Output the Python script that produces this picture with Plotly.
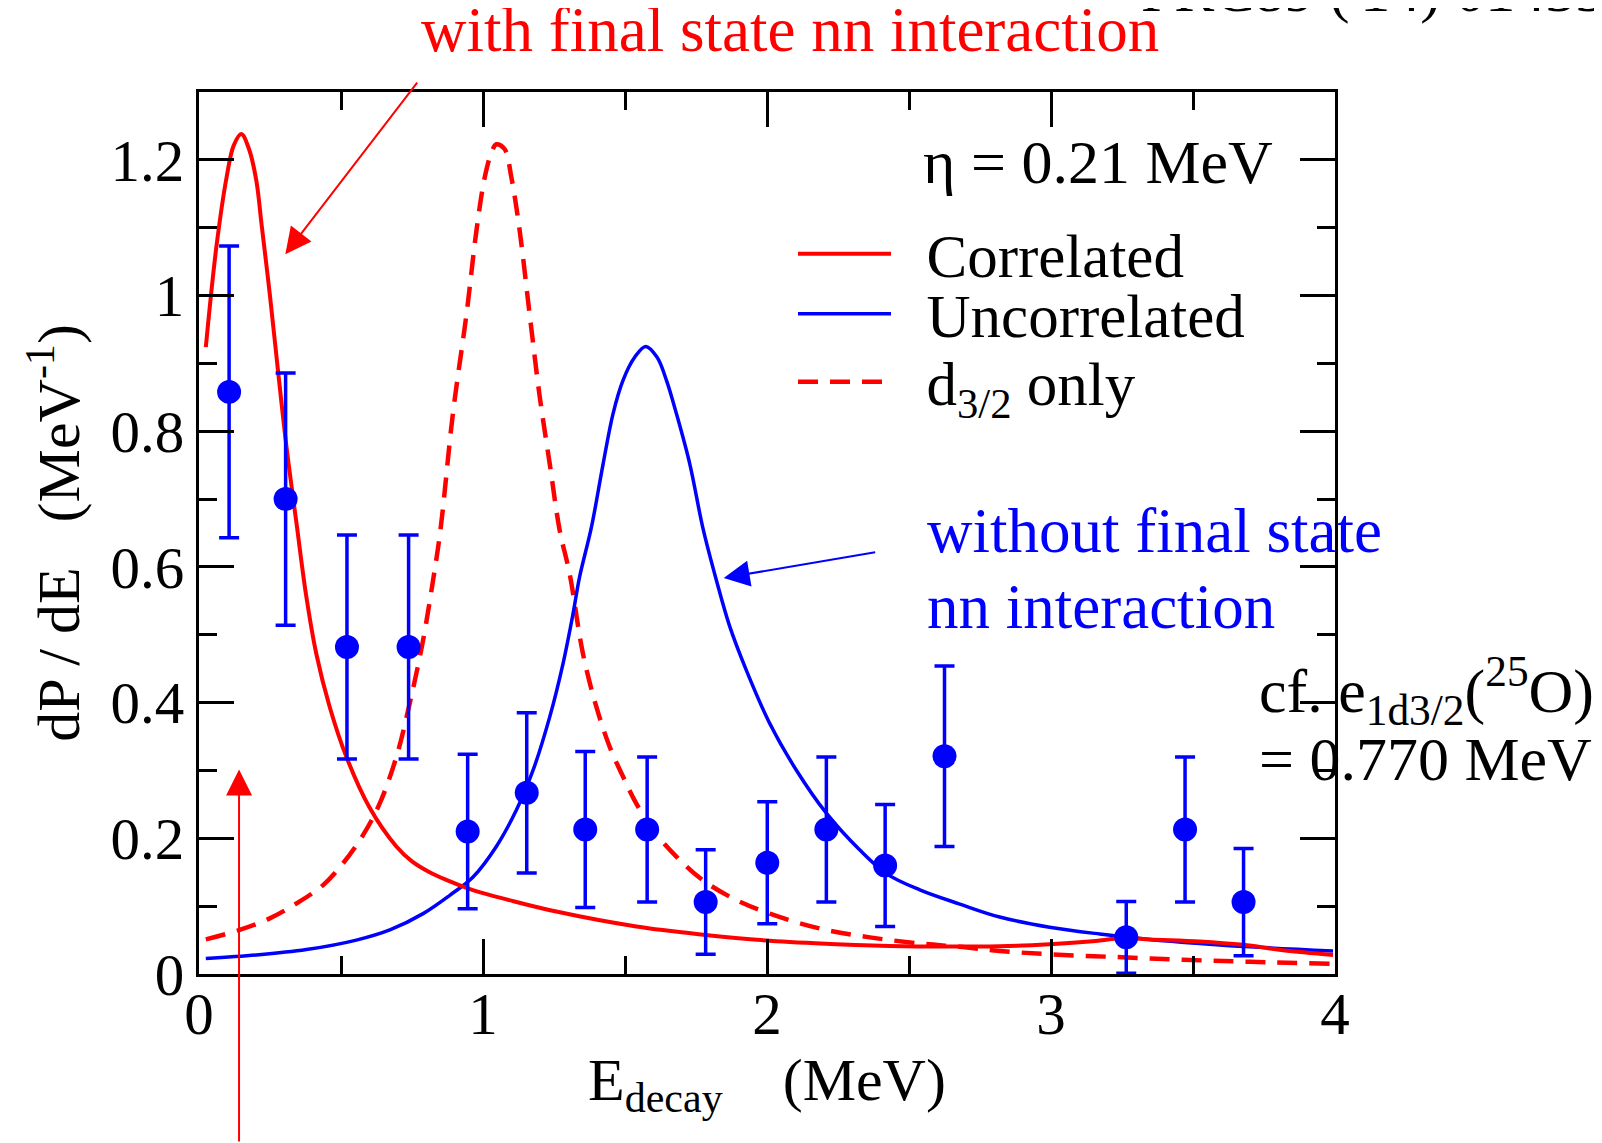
import plotly.graph_objects as go

# ---------------- data ----------------
corr_x = [0.024, 0.061, 0.097, 0.122, 0.149, 0.176, 0.202, 0.220, 0.249, 0.278, 0.308, 0.344,
          0.378, 0.413, 0.460, 0.519, 0.601, 0.695, 0.750, 0.812, 0.875, 0.942, 1.010, 1.082,
          1.258, 1.540, 1.775, 2.010, 2.244, 2.479, 2.819, 2.995, 3.136, 3.265, 3.348, 3.523,
          3.676, 3.817, 3.993]
corr_y = [0.924, 1.071, 1.174, 1.221, 1.238, 1.216, 1.169, 1.106, 1.003, 0.890, 0.777, 0.662,
          0.556, 0.472, 0.394, 0.320, 0.245, 0.188, 0.166, 0.150, 0.138, 0.127, 0.118, 0.110,
          0.092, 0.070, 0.058, 0.049, 0.044, 0.041, 0.041, 0.044, 0.048, 0.053, 0.051, 0.048,
          0.043, 0.035, 0.028]

unc_x = [0.024, 0.202, 0.378, 0.554, 0.672, 0.789, 0.883, 0.965, 1.047, 1.118, 1.176, 1.235,
         1.282, 1.317, 1.340, 1.382, 1.423, 1.458, 1.493, 1.534, 1.573, 1.613, 1.646, 1.681,
         1.728, 1.775, 1.822, 1.869, 1.927, 2.010, 2.104, 2.209, 2.326, 2.420, 2.538, 2.679,
         2.819, 2.995, 3.171, 3.348, 3.523, 3.700, 3.993]
unc_y = [0.023, 0.028, 0.036, 0.050, 0.065, 0.089, 0.116, 0.143, 0.188, 0.242, 0.300, 0.379,
         0.458, 0.531, 0.585, 0.659, 0.752, 0.826, 0.875, 0.909, 0.925, 0.909, 0.875, 0.826,
         0.752, 0.656, 0.580, 0.512, 0.448, 0.369, 0.300, 0.237, 0.183, 0.148, 0.124, 0.103,
         0.084, 0.069, 0.059, 0.051, 0.045, 0.040, 0.034]

d32_x = [0.024, 0.143, 0.249, 0.343, 0.437, 0.507, 0.578, 0.636, 0.695, 0.742, 0.789, 0.824,
         0.850, 0.894, 0.942, 0.977, 1.006, 1.030, 1.047, 1.076, 1.100, 1.129, 1.164, 1.200,
         1.235, 1.270, 1.305, 1.352, 1.399, 1.446, 1.493, 1.540, 1.599, 1.681, 1.775, 1.892,
         2.010, 2.186, 2.362, 2.538, 2.679, 2.819, 2.995, 3.230, 3.465, 3.700, 3.981]
d32_y = [0.051, 0.065, 0.082, 0.104, 0.131, 0.163, 0.205, 0.251, 0.320, 0.399, 0.492, 0.580,
         0.654, 0.826, 0.973, 1.096, 1.174, 1.211, 1.223, 1.216, 1.174, 1.096, 0.973, 0.850,
         0.752, 0.654, 0.590, 0.472, 0.394, 0.335, 0.291, 0.251, 0.212, 0.173, 0.138, 0.109,
         0.089, 0.067, 0.054, 0.045, 0.040, 0.034, 0.029, 0.025, 0.021, 0.018, 0.015]

exp_x = [0.106, 0.305, 0.521, 0.738, 0.946, 1.154, 1.360, 1.578, 1.784, 2.001, 2.209, 2.416,
         2.625, 3.265, 3.472, 3.678]
exp_y = [0.858, 0.700, 0.482, 0.482, 0.210, 0.267, 0.213, 0.213, 0.106, 0.164, 0.213, 0.160,
         0.321, 0.054, 0.213, 0.106]
exp_err = [0.215, 0.186, 0.165, 0.165, 0.114, 0.118, 0.115, 0.107, 0.077, 0.090, 0.107, 0.090,
           0.133, 0.053, 0.107, 0.079]

legend_names = ["Correlated", "Uncorrelated", "d<sub>3/2</sub> only"]
x_ticks = [0, 1, 2, 3, 4]
x_ticktext = ["0", "1", "2", "3", "4"]
y_ticks = [0, 0.2, 0.4, 0.6, 0.8, 1.0, 1.2]
y_ticktext = ["0", "0.2", "0.4", "0.6", "0.8", "1", "1.2"]

RED = "#FF0000"
BLUE = "#0000FF"
FONT = "Liberation Serif, Times New Roman, serif"
NB = "\u00a0"

# page body margin compensation
OFF = 8
W, H = 1602 - OFF, 1143 - OFF
ML_REF, MT_REF, PW, PH = 199, 92, 1136, 882
ML, MT = ML_REF - OFF, MT_REF - OFF
MR = W - ML - PW
MB = H - MT - PH


def px(xp):  # reference pixel x -> paper
    return (xp - ML_REF) / PW


def py(yp):  # reference pixel y -> paper
    return (MT_REF + PH - yp) / PH


fig = go.Figure()

fig.add_trace(go.Scatter(x=d32_x, y=d32_y, mode="lines", name=NB + NB + legend_names[2],
                         line=dict(color=RED, width=4.5, dash="20px,12px", shape="spline", smoothing=1.0),
                         legend="legend3"))
fig.add_trace(go.Scatter(x=unc_x, y=unc_y, mode="lines", name=NB + NB + legend_names[1],
                         line=dict(color=BLUE, width=3.5, shape="spline", smoothing=1.0),
                         legend="legend2"))
fig.add_trace(go.Scatter(x=corr_x, y=corr_y, mode="lines", name=NB + NB + legend_names[0],
                         line=dict(color=RED, width=4, shape="spline", smoothing=1.0),
                         legend="legend"))
fig.add_trace(go.Scatter(x=exp_x, y=exp_y, mode="markers", showlegend=False,
                         marker=dict(color=BLUE, size=24),
                         error_y=dict(type="data", array=exp_err, color=BLUE, thickness=3.5, width=10)))

leg_common = dict(font=dict(family=FONT, size=61, color="black"), bgcolor="rgba(0,0,0,0)",
                  borderwidth=0, itemwidth=93, xanchor="left", yanchor="middle")
fig.update_layout(
    legend=dict(x=px(793), y=py(254), **leg_common),
    legend2=dict(x=px(793), y=py(314), **leg_common),
    legend3=dict(x=px(793), y=py(382), **leg_common),
)

axis_common = dict(showline=True, linewidth=3, linecolor="black", mirror="ticks",
                   ticks="inside", ticklen=35, tickwidth=3, tickcolor="black",
                   showgrid=False, zeroline=False,
                   tickfont=dict(family=FONT, size=59, color="black"))
fig.update_xaxes(range=[0, 4], tickvals=x_ticks, ticktext=x_ticktext, ticklabelstandoff=-14,
                 minor=dict(ticks="inside", ticklen=18, tickwidth=3, tickcolor="black", dtick=0.5),
                 title=dict(text="E<sub>decay</sub>" + NB * 4 + "(MeV)",
                            font=dict(family=FONT, size=60, color="black"), standoff=3),
                 automargin=False, **axis_common)
fig.update_yaxes(range=[0, 1.3], tickvals=y_ticks, ticktext=y_ticktext,
                 minor=dict(ticks="inside", ticklen=18, tickwidth=3, tickcolor="black", dtick=0.1),
                 title=dict(text="dP / dE" + NB * 3 + "(MeV<sup>-1</sup>)",
                            font=dict(family=FONT, size=60, color="black"), standoff=12),
                 automargin=False, **axis_common)


def txt(x, y, text, size, color, xanchor="left"):
    return dict(xref="paper", yref="paper", x=px(x), y=py(y - 0.3375 * size), xanchor=xanchor,
                yanchor="middle", text=text, showarrow=False,
                font=dict(family=FONT, size=size, color=color))


ann = [
    txt(419, 51, "with final state nn interaction", 63, RED),
    txt(925, 552, "without final state", 63, BLUE),
    txt(925, 628, "nn interaction", 63, BLUE),
    txt(1275, 183, "η = 0.21 MeV", 62, "black", xanchor="right"),
    txt(1257, 711, "cf. e<sub>1d3/2</sub>(<sup>25</sup>O)", 62, "black"),
    txt(1257, 780, "= 0.770 MeV", 62, "black"),
    txt(1139, 11, "PRC89 ('14) 014331", 60, "black"),
    # arrows
    dict(x=0.304, y=1.061, xref="x", yref="y", ax=133, ay=-173, text="", showarrow=True,
         arrowhead=2, arrowsize=2.6, arrowwidth=2, arrowcolor=RED),
    dict(x=0.141, y=0.3015, xref="x", yref="y", ax=0, ay=380, text="", showarrow=True,
         arrowhead=2, arrowsize=2.6, arrowwidth=2, arrowcolor=RED),
    dict(x=1.8475, y=0.5837, xref="x", yref="y", ax=153, ay=-26, text="", showarrow=True,
         arrowhead=2, arrowsize=2.6, arrowwidth=2, arrowcolor=BLUE),
]

fig.update_layout(
    width=W, height=H, autosize=False,
    margin=dict(l=ML, r=MR, t=MT, b=MB, pad=0),
    paper_bgcolor="white", plot_bgcolor="white",
    font=dict(family=FONT, color="black"),
    annotations=ann,
)

fig.write_html("out.html")
